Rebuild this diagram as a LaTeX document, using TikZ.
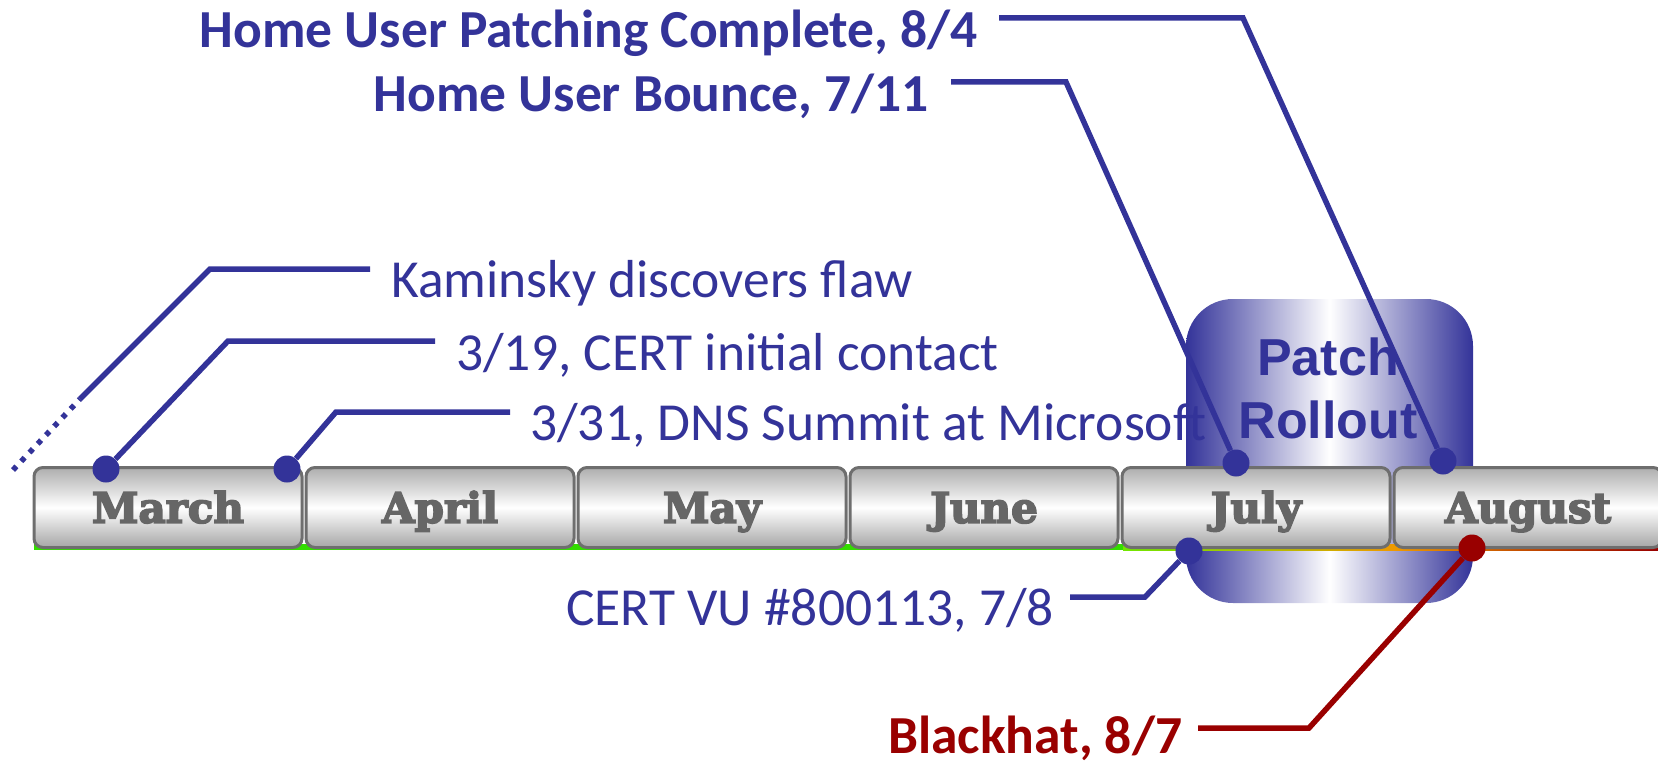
\documentclass[tikz,border=0pt]{standalone}
\usepackage{fontspec}
\setmainfont{Carlito}
\newfontfamily\monthfont{DejaVu Serif}[BoldFeatures={FakeBold=4}]
\newfontfamily\arialfont{Liberation Sans}
\definecolor{evblue}{HTML}{333399}
\definecolor{evred}{HTML}{990000}
\definecolor{mgray}{HTML}{666666}
\definecolor{mborder}{HTML}{6E6E6E}
\definecolor{bargreen}{HTML}{33DD00}
\definecolor{barorange}{HTML}{EE9900}
\begin{document}
\begin{tikzpicture}[x=1pt,y=-1pt,
  month/.style={rectangle, rounded corners=9pt, draw=mborder, line width=3pt,
    top color=black!32, bottom color=black!35, middle color=white,
    font=\monthfont\bfseries\fontsize{42}{48}\selectfont, text=mgray,
    text height=30.6pt, text depth=0pt, minimum width=268pt, minimum height=80pt, inner sep=0pt},
  patch/.style={rectangle, rounded corners=47pt, left color=evblue, right color=evblue,
    middle color=white, minimum width=287pt, minimum height=304pt, inner sep=0pt},
  lbl/.style={font=\fontsize{53.5}{60}\selectfont, text=evblue, inner sep=0pt},
  blbl/.style={lbl, font=\bfseries\fontsize{53.5}{60}\selectfont},
  dot/.style={circle, fill=evblue, minimum size=27pt, inner sep=0pt},
  conn/.style={draw=evblue, line width=5.5pt},
]
\useasboundingbox (0,0) rectangle (1658,765);
% patch rollout background
\node[patch] (patch) at (1329.5,451) {};
% thin coloured bar under the months
\fill[bargreen] (34,544) rectangle (1123,550);
\fill[left color=bargreen!70!yellow, right color=barorange] (1123,544) rectangle (1394,550);
\fill[left color=barorange, right color=evred] (1394,544) rectangle (1658,550);
% months
\node[month] (mar) at (168,507.5) {March};
\node[month] (apr) at (440,507.5) {April};
\node[month] (may) at (712,507.5) {May};
\node[month] (jun) at (984,507.5) {June};
\node[month] (jul) at (1256,507.5) {July};
\node[month] (aug) at (1528,507.5) {August};
% patch rollout text
\node[font=\arialfont\bfseries\fontsize{52}{63}\selectfont, text=evblue, align=center, inner sep=0pt]
  (ptext) at (1328,388) {Patch\\Rollout};
% labels
\node[lbl, anchor=base west] (tK) at (391,297) {Kaminsky discovers flaw};
\node[lbl, anchor=base west] (t319) at (456,370) {3/19, CERT initial contact};
\node[lbl, anchor=base west] (t331) at (530,440) {3/31, DNS Summit at Microsoft};
\node[lbl, anchor=base west] (tVU) at (566,625) {CERT VU \#800113, 7/8};
\node[blbl, anchor=base east] (tHP) at (978,48) {Home User Patching Complete, 8/4};
\node[blbl, anchor=base east] (tHB) at (929,112) {Home User Bounce, 7/11};
\node[blbl, anchor=base west, text=evred] (tBH) at (888,753) {Blackhat, 8/7};
% dots
\node[dot] (dMar) at (106,469) {};
\node[dot] (d331) at (287,469) {};
\node[dot] (dHB) at (1236,463) {};
\node[dot] (dHP) at (1443,461) {};
\node[dot] (dVU) at (1189,551) {};
\node[dot, fill=evred] (dBH) at (1472,548) {};
% connector coordinates
\coordinate (kEnd) at (13,470);
\coordinate (kMid) at (80,399);
\coordinate (kBend) at (210,269);
\coordinate (kTip) at (370,269);
\coordinate (b319) at (228,341);
\coordinate (e319) at (435,341);
\coordinate (b331) at (336,412);
\coordinate (e331) at (510,412);
\coordinate (bHP) at (1243,18);
\coordinate (eHP) at (999,18);
\coordinate (bHB) at (1066,82);
\coordinate (eHB) at (951,82);
\coordinate (bVU) at (1145,597);
\coordinate (eVU) at (1070,597);
\coordinate (bBH) at (1309,728);
\coordinate (eBH) at (1198,728);
% connectors
\draw[conn, dash pattern=on 5pt off 7pt] (kEnd) -- (kMid);
\draw[conn] (kMid) -- (kBend) -- (kTip);
\draw[conn] (dMar) -- (b319) -- (e319);
\draw[conn] (d331) -- (b331) -- (e331);
\draw[conn] (dHP) -- (bHP) -- (eHP);
\draw[conn] (dHB) -- (bHB) -- (eHB);
\draw[conn] (dVU) -- (bVU) -- (eVU);
\draw[conn, draw=evred] (dBH) -- (bBH) -- (eBH);
\end{tikzpicture}
\end{document}
